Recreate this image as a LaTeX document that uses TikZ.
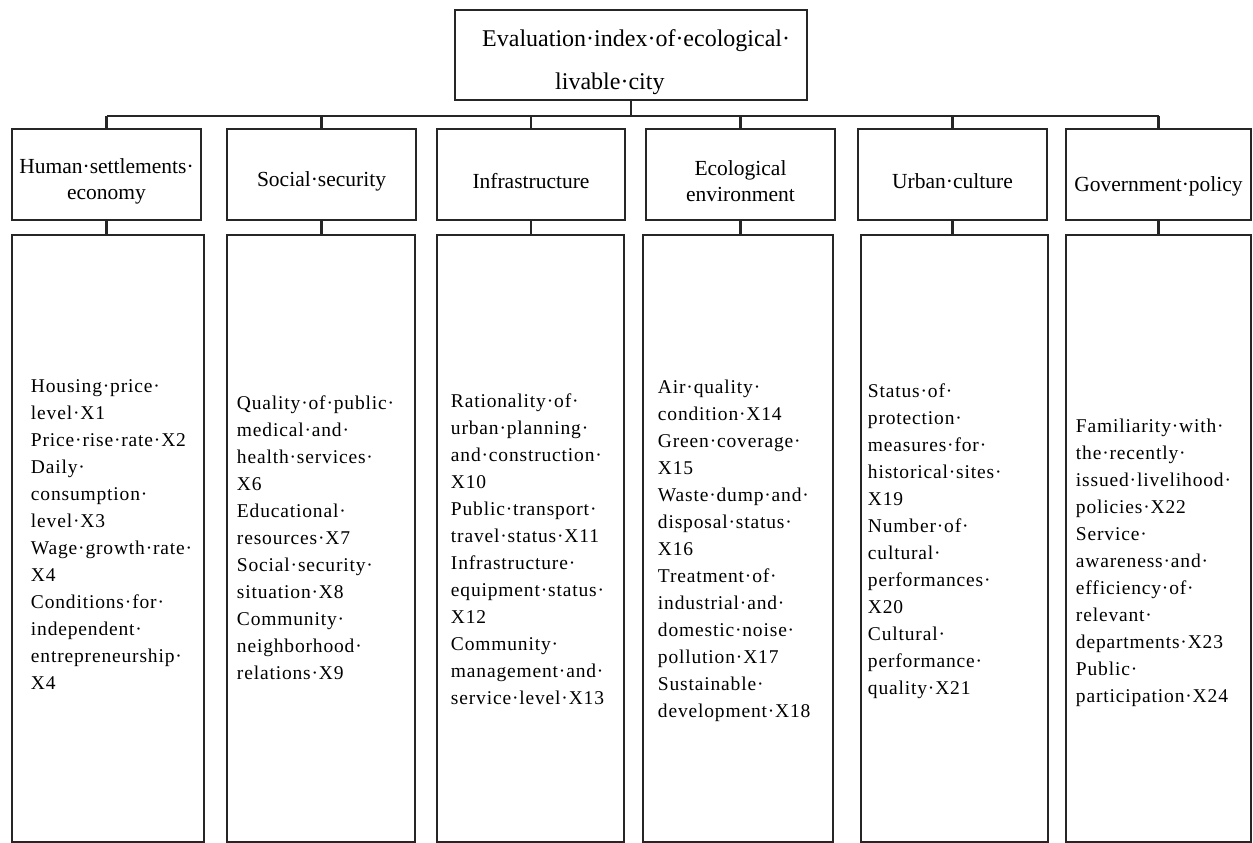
\documentclass[tikz,border=0pt]{standalone}
\usepackage{fontspec}
\setmainfont{Liberation Serif}
\newfontfamily\itemfont{Liberation Serif}[LetterSpace=4.3]
\tikzset{
  box/.style={draw=black!85, line width=2.5pt, inner sep=0pt},
  link/.style={draw=black!85, line width=2.3pt},
  headtext/.style={font=\fontsize{24}{43}\selectfont, align=left, inner sep=0pt, anchor=north west},
  cattext/.style={font=\fontsize{21.5}{26}\selectfont, align=center, inner sep=0pt},
  itemtext/.style={font=\itemfont\fontsize{19.5}{27}\selectfont, align=left, inner sep=0pt, anchor=north west}
}
\begin{document}
\begin{tikzpicture}[x=1pt, y=-1pt]
        \useasboundingbox (0,0) rectangle (1253,843);

        % top level
        \node[box, minimum width=352pt, minimum height=90pt] (top) at (631,55) {};
        \node[headtext] (toptext) at (482,29) {Evaluation·index·of·ecological·\\\hspace*{73pt}livable·city};

        % second level
        \node[box, minimum width=189pt, minimum height=91pt] (c1) at (106.5,174.5) {};
        \node[box, minimum width=189pt, minimum height=91pt] (c2) at (321.5,174.5) {};
        \node[box, minimum width=188pt, minimum height=91pt] (c3) at (531,174.5) {};
        \node[box, minimum width=189pt, minimum height=91pt] (c4) at (740.5,174.5) {};
        \node[box, minimum width=189pt, minimum height=91pt] (c5) at (952.5,174.5) {};
        \node[box, minimum width=185pt, minimum height=91pt] (c6) at (1158.5,174.5) {};
        \node[cattext] (t1) at ([yshift=-7pt]c1.center) {Human·settlements·\\economy};
        \node[cattext] (t2) at ([yshift=-7pt]c2.center) {Social·security};
        \node[cattext] (t3) at ([yshift=-7pt]c3.center) {Infrastructure};
        \node[cattext] (t4) at ([yshift=-7pt]c4.center) {Ecological\\environment};
        \node[cattext] (t5) at ([yshift=-7pt]c5.center) {Urban·culture};
        \node[cattext] (t6) at ([yshift=-12pt]c6.center) {Government·policy};

        % indicator boxes
        \node[box, minimum width=192pt, minimum height=607pt] (l1) at (108,538.5) {};
        \node[box, minimum width=188pt, minimum height=607pt] (l2) at (321,538.5) {};
        \node[box, minimum width=187pt, minimum height=607pt] (l3) at (530.5,538.5) {};
        \node[box, minimum width=190pt, minimum height=607pt] (l4) at (738,538.5) {};
        \node[box, minimum width=187pt, minimum height=607pt] (l5) at (954.5,538.5) {};
        \node[box, minimum width=185pt, minimum height=607pt] (l6) at (1158.5,538.5) {};

        \node[itemtext] (i1) at ([xshift=20pt, yshift=-145.7pt]l1.north west) {Housing·price·\\level·X1\\Price·rise·rate·X2\\Daily·\\consumption·\\level·X3\\Wage·growth·rate·\\X4\\Conditions·for·\\independent·\\entrepreneurship·\\X4};
        \node[itemtext] (i2) at ([xshift=11pt, yshift=-161.7pt]l2.north west) {Quality·of·public·\\medical·and·\\health·services·\\X6\\Educational·\\resources·X7\\Social·security·\\situation·X8\\Community·\\neighborhood·\\relations·X9};
        \node[itemtext] (i3) at ([xshift=15pt, yshift=-159.7pt]l3.north west) {Rationality·of·\\urban·planning·\\and·construction·\\X10\\Public·transport·\\travel·status·X11\\Infrastructure·\\equipment·status·\\X12\\Community·\\management·and·\\service·level·X13};
        \node[itemtext] (i4) at ([xshift=16pt, yshift=-145.7pt]l4.north west) {Air·quality·\\condition·X14\\Green·coverage·\\X15\\Waste·dump·and·\\disposal·status·\\X16\\Treatment·of·\\industrial·and·\\domestic·noise·\\pollution·X17\\Sustainable·\\development·X18};
        \node[itemtext] (i5) at ([xshift=8pt, yshift=-149.7pt]l5.north west) {Status·of·\\protection·\\measures·for·\\historical·sites·\\X19\\Number·of·\\cultural·\\performances·\\X20\\Cultural·\\performance·\\quality·X21};
        \node[itemtext] (i6) at ([xshift=11pt, yshift=-184.7pt]l6.north west) {Familiarity·with·\\the·recently·\\issued·livelihood·\\policies·X22\\Service·\\awareness·and·\\efficiency·of·\\relevant·\\departments·X23\\Public·\\participation·X24};

        % connectors
        \coordinate (bus) at (0,116);
        \draw[link] (top.south) -- (top.south |- bus);
        \draw[link] (c1.north |- bus) -- (c6.north |- bus);
        \draw[link] (c1.north |- bus) -- (c1.north);
        \draw[link] (c2.north |- bus) -- (c2.north);
        \draw[link] (c3.north |- bus) -- (c3.north);
        \draw[link] (c4.north |- bus) -- (c4.north);
        \draw[link] (c5.north |- bus) -- (c5.north);
        \draw[link] (c6.north |- bus) -- (c6.north);
        \draw[link] (c1.south) -- (c1.south |- l1.north);
        \draw[link] (c2.south) -- (c2.south |- l2.north);
        \draw[link] (c3.south) -- (c3.south |- l3.north);
        \draw[link] (c4.south) -- (c4.south |- l4.north);
        \draw[link] (c5.south) -- (c5.south |- l5.north);
        \draw[link] (c6.south) -- (c6.south |- l6.north);
    \end{tikzpicture}
\end{document}
